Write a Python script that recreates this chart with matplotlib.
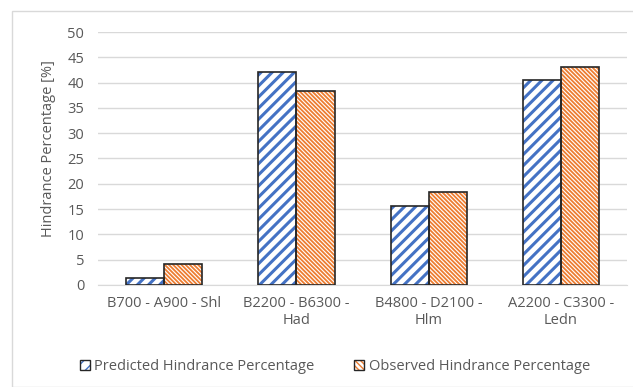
import matplotlib.pyplot as plt
import matplotlib.patches as mpatches
import numpy as np

# Data for the grouped bars
categories = ["B700 - A900 - Shl", "B2200 - B6300 -\nHad", "B4800 - D2100 -\nHlm", "A2200 - C3300 -\nLedn"]
predicted = [1.3, 42.1, 15.7, 40.6]
observed = [4.2, 38.3, 18.3, 43.1]
y_ticks = [0, 5, 10, 15, 20, 25, 30, 35, 40, 45, 50]

blue = "#4472C4"
orange = "#ED7D31"
text_gray = "#595959"
grid_gray = "#D9D9D9"
edge = "#262626"

plt.rcParams['font.family'] = ['Open Sans', 'DejaVu Sans']
plt.rcParams['font.size'] = 10

fig = plt.figure(figsize=(6.33, 3.87), dpi=100)
ax = fig.add_axes([0.155, 0.2636, 0.8355, 0.6537])

# light frame around the whole chart
fig.patches.append(mpatches.Rectangle((12 / 633, 0.0), 1.0, 1 - 11 / 387, transform=fig.transFigure,
                                      fill=False, edgecolor=grid_gray, linewidth=1))

x = np.arange(len(categories))
w = 0.288


def hatched_bars(xs, vals, color, hatch, hatch_lw):
    # hatch line width is taken from rcParams when the patch is created
    with plt.rc_context({'hatch.linewidth': hatch_lw}):
        ax.bar(xs, vals, w, color="white", edgecolor=color, hatch=hatch, linewidth=0, zorder=3)
    ax.bar(xs, vals, w, color="none", edgecolor=edge, linewidth=1.2, zorder=4)


hatched_bars(x - w / 2, predicted, blue, "///", 2.2)
hatched_bars(x + w / 2, observed, orange, "\\" * 8, 1.3)

ax.set_ylim(0, 50)
ax.set_xlim(-0.5, len(categories) - 0.5)
ax.set_yticks(y_ticks)
ax.set_xticks(x)
ax.set_xticklabels(categories)
ax.yaxis.grid(True, color=grid_gray, linewidth=1)
ax.set_axisbelow(True)
for s in ["top", "right", "left"]:
    ax.spines[s].set_visible(False)
ax.spines["bottom"].set_color(grid_gray)
ax.tick_params(axis="both", length=0, colors=text_gray, labelsize=10.5)
ax.tick_params(axis="y", pad=10)
ax.tick_params(axis="x", pad=8)
ax.set_ylabel("Hindrance Percentage [%]", color=text_gray, fontsize=10.5)
ax.yaxis.set_label_coords(-0.08, 0.54)

# legend with hatched swatches and a dark outline
with plt.rc_context({'hatch.linewidth': 1.8}):
    h1 = mpatches.Patch(facecolor="white", edgecolor=blue, hatch="///", linewidth=0)
with plt.rc_context({'hatch.linewidth': 1.2}):
    h2 = mpatches.Patch(facecolor="white", edgecolor=orange, hatch="\\" * 6, linewidth=0)
b1 = mpatches.Patch(facecolor="none", edgecolor=edge, linewidth=1.0)
b2 = mpatches.Patch(facecolor="none", edgecolor=edge, linewidth=1.0)
leg = fig.legend([(h1, b1), (h2, b2)], ["Predicted Hindrance Percentage", "Observed Hindrance Percentage"],
                 loc="center", bbox_to_anchor=(0.529, 0.053), ncol=2, frameon=False,
                 handlelength=0.7, handleheight=0.7, handletextpad=0.3, columnspacing=2.7,
                 fontsize=10.5, labelcolor=text_gray)

fig.savefig("out.png", dpi=100)
